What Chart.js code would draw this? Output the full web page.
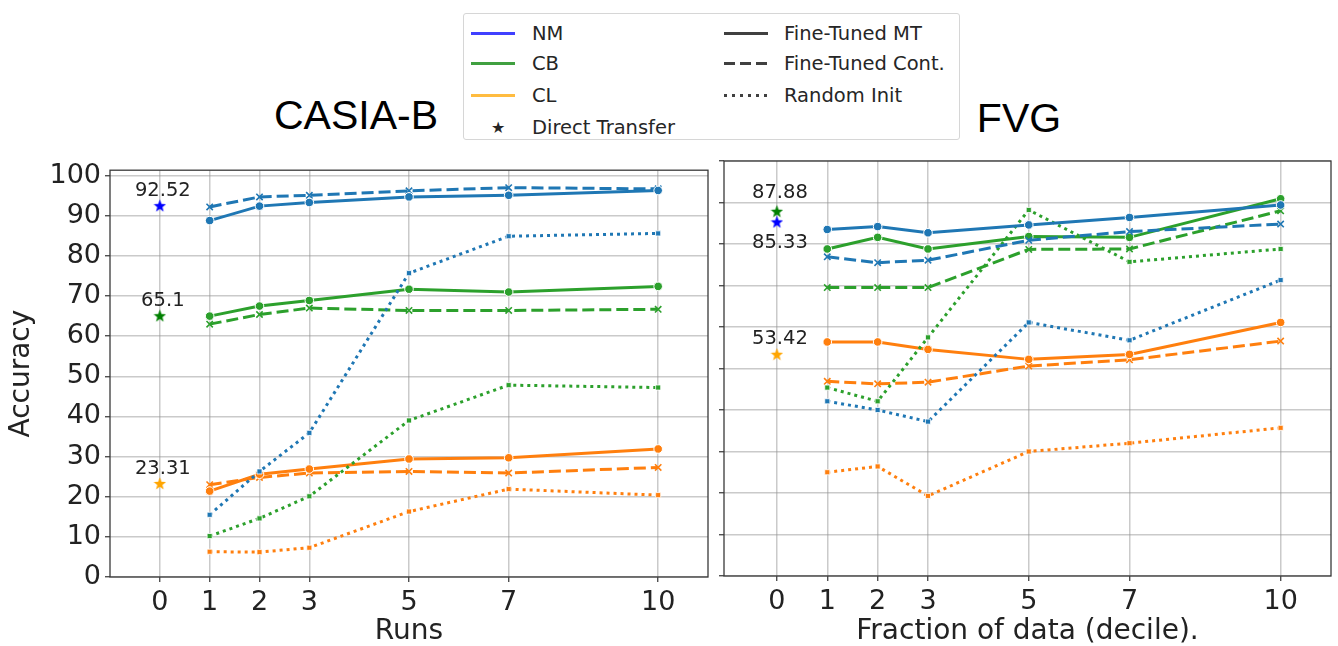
<!DOCTYPE html>
<html>
<head>
<meta charset="utf-8">
<script src="https://cdn.jsdelivr.net/npm/chart.js@4.4.1/dist/chart.umd.min.js"></script>
<style>
  body { margin: 0; width: 1338px; height: 646px; background: #fff; position: relative; overflow: hidden; font-family: "DejaVu Sans", sans-serif; }
  canvas { position: absolute; }
  #casia { left: 0; top: 150px; }
  #fvg { left: 715px; top: 150px; }
  .title { position: absolute; width: 240px; text-align: center; font-family: "Liberation Sans", Arial, sans-serif; font-size: 41px; line-height: 41px; color: #000; }
  #legend { position: absolute; left: 463px; top: 13px; width: 497px; height: 127px; border: 1px solid #d6d6d6; border-radius: 3px; box-sizing: border-box; }
  .item { position: absolute; height: 30px; line-height: 30px; font-size: 19.5px; color: #262626; white-space: nowrap; }
  .sw { position: absolute; height: 3px; width: 44px; }
</style>
</head>
<body>
<div class="title" style="left:236px; top:95px;">CASIA-B</div>
<div class="title" style="left:899px; top:98px;">FVG</div>

<div id="legend">
  <div class="sw" style="left:7px; top:18px; background:rgba(0,0,255,0.75);"></div>
  <div class="item" style="left:68px; top:5px;">NM</div>
  <div class="sw" style="left:7px; top:48px; background:rgba(0,128,0,0.75);"></div>
  <div class="item" style="left:68px; top:35px;">CB</div>
  <div class="sw" style="left:7px; top:80px; background:rgba(255,165,0,0.75);"></div>
  <div class="item" style="left:68px; top:67px;">CL</div>
  <div class="item" style="left:27px; top:99px; font-size:16px;">★</div>
  <div class="item" style="left:68px; top:99px;">Direct Transfer</div>

  <div class="sw" style="left:260px; top:18px; background:#404040;"></div>
  <div class="item" style="left:320px; top:5px;">Fine-Tuned MT</div>
  <div class="sw" style="left:260px; top:48px; background:repeating-linear-gradient(to right,#404040 0 11px,transparent 11px 16px);"></div>
  <div class="item" style="left:320px; top:35px;">Fine-Tuned Cont.</div>
  <div class="sw" style="left:260px; top:80px; background:repeating-linear-gradient(to right,#404040 0 3px,transparent 3px 8px);"></div>
  <div class="item" style="left:320px; top:67px;">Random Init</div>
</div>

<canvas id="casia" width="715" height="496"></canvas>
<canvas id="fvg" width="623" height="496"></canvas>

<script>
// ---- data ----
const xTicks = [0, 1, 2, 3, 5, 7, 10];
const xPoints = [1, 2, 3, 5, 7, 10];
const yTicks = [0, 10, 20, 30, 40, 50, 60, 70, 80, 90, 100];

// CASIA-B (Runs)
const casiaNM_MT   = [88.8, 92.4, 93.3, 94.7, 95.1, 96.3];
const casiaNM_Cont = [92.2, 94.7, 95.1, 96.2, 97.0, 96.7];
const casiaNM_Rand = [15.5, 26.3, 35.9, 75.7, 84.9, 85.6];
const casiaCB_MT   = [65.0, 67.5, 68.9, 71.7, 71.0, 72.4];
const casiaCB_Cont = [63.0, 65.4, 67.0, 66.4, 66.4, 66.7];
const casiaCB_Rand = [10.2, 14.6, 20.1, 39.0, 47.8, 47.2];
const casiaCL_MT   = [21.4, 25.6, 26.9, 29.4, 29.7, 31.9];
const casiaCL_Cont = [23.0, 24.8, 25.9, 26.3, 25.9, 27.3];
const casiaCL_Rand = [6.3, 6.2, 7.3, 16.3, 21.9, 20.4];
const casiaDirect  = [92.52, 65.1, 23.31]; // NM, CB, CL

// FVG (fraction of data)
const fvgNM_MT   = [83.5, 84.2, 82.7, 84.6, 86.4, 89.4];
const fvgNM_Cont = [76.9, 75.5, 76.1, 80.9, 83.0, 84.8];
const fvgNM_Rand = [42.1, 40.0, 37.2, 61.1, 56.8, 71.3];
const fvgCB_MT   = [78.8, 81.6, 78.8, 81.8, 81.6, 90.9];
const fvgCB_Cont = [69.5, 69.5, 69.5, 78.7, 78.8, 88.0];
const fvgCB_Rand = [45.4, 42.1, 57.5, 88.2, 75.7, 78.8];
const fvgCL_MT   = [56.4, 56.4, 54.6, 52.2, 53.4, 61.1];
const fvgCL_Cont = [46.9, 46.3, 46.7, 50.6, 52.1, 56.6];
const fvgCL_Rand = [25.0, 26.4, 19.3, 30.0, 32.0, 35.7];
const fvgDirect  = [85.33, 87.88, 53.42]; // NM, CB, CL

// ---- styling ----
const font = '"DejaVu Sans", sans-serif';
const lineColors = { NM: '#1f77b4', CB: '#2ca02c', CL: '#ff7f0e' };
const starColors = ['#0000ff', '#008000', '#ffa500'];
const kinds = {
  MT:   { dash: [],      point: 'circle',   radius: 4.3, pointBorder: '#fff', pointBorderWidth: 1 },
  Cont: { dash: [12, 5], point: 'crossRot', radius: 4.5, pointBorder: null,   pointBorderWidth: 1.6 },
  Rand: { dash: [3, 4],  point: 'rect',     radius: 3.6, pointBorder: '#fff', pointBorderWidth: 0.8 },
};
const gridColor = 'rgba(150,150,150,0.5)';

function starImage(color, size) {
  const c = document.createElement('canvas');
  c.width = c.height = size;
  const ctx = c.getContext('2d');
  const r = size / 2, ri = r * 0.42;
  ctx.beginPath();
  for (let i = 0; i < 10; i++) {
    const rad = i % 2 ? ri : r;
    const a = -Math.PI / 2 + i * Math.PI / 5;
    ctx.lineTo(r + rad * Math.cos(a), r + rad * 1.05 * Math.sin(a) + 0.5);
  }
  ctx.closePath();
  ctx.fillStyle = color;
  ctx.fill();
  return c;
}
const stars = starColors.map(c => starImage(c, 13));

function series(values, group, kind) {
  const k = kinds[kind];
  const col = lineColors[group];
  return {
    label: group + ' ' + kind,
    data: xPoints.map((x, i) => ({ x: x, y: values[i] })),
    borderColor: col,
    backgroundColor: col,
    borderWidth: 3,
    borderDash: k.dash,
    tension: 0,
    pointStyle: k.point,
    pointRadius: k.radius,
    pointBackgroundColor: col,
    pointBorderColor: k.pointBorder || col,
    pointBorderWidth: k.pointBorderWidth,
  };
}

function directSet(values) {
  return {
    label: 'Direct Transfer',
    showLine: false,
    data: values.map(v => ({ x: 0, y: v })),
    pointStyle: stars,
    pointRadius: 6,
    order: -1,
  };
}

// frame around the axes and value labels next to the stars
const framePlugin = {
  id: 'frame',
  afterDatasetsDraw(chart, args, opts) {
    const a = chart.chartArea, ctx = chart.ctx;
    ctx.save();
    ctx.strokeStyle = '#3a3a3a';
    ctx.lineWidth = 1.3;
    ctx.strokeRect(a.left, a.top, a.right - a.left, a.bottom - a.top);
    const meta = chart.getDatasetMeta(chart.data.datasets.length - 1);
    ctx.font = '19.5px ' + font;
    ctx.fillStyle = '#222';
    ctx.textAlign = 'center';
    ctx.textBaseline = 'middle';
    meta.data.forEach((pt, i) => {
      const v = chart.data.datasets[meta.index].data[i].y;
      ctx.fillText(String(v), pt.x + 3, pt.y + opts.shift[i]);
    });
    ctx.restore();
  }
};

function makeChart(id, sets, direct, cfg) {
  const datasets = sets.map(s => series(s[0], s[1], s[2]));
  datasets.push(directSet(direct));
  return new Chart(document.getElementById(id), {
    type: 'line',
    data: { datasets },
    plugins: [framePlugin],
    options: {
      responsive: false,
      animation: false,
      layout: { padding: cfg.padding },
      plugins: { legend: { display: false }, tooltip: { enabled: false }, frame: { shift: cfg.shift } },
      scales: {
        x: {
          type: 'linear', min: cfg.xMin, max: 11,
          afterBuildTicks: a => { a.ticks = xTicks.map(v => ({ value: v })); },
          afterFit: a => { a.height = cfg.xHeight; },
          border: { display: false },
          grid: { color: gridColor, lineWidth: 1.5, drawTicks: true, tickLength: 5, tickColor: '#333', tickWidth: 1.2 },
          ticks: { font: { family: font, size: 27 }, color: '#222', padding: 5, maxRotation: 0, autoSkip: false, callback: v => String(v) },
          title: { display: true, text: cfg.xTitle, font: { family: font, size: 28, lineHeight: 1 }, color: '#222', padding: { top: 0, bottom: 0 } },
        },
        y: {
          type: 'linear', min: 0, max: cfg.yMax,
          afterBuildTicks: a => { a.ticks = yTicks.map(v => ({ value: v })); },
          afterFit: a => { a.width = cfg.yWidth; },
          border: { display: false },
          grid: { color: gridColor, lineWidth: 1.5, drawTicks: true, tickLength: 5, tickColor: '#333', tickWidth: 1.2 },
          ticks: { display: cfg.yLabels, font: { family: font, size: 27 }, color: '#222', padding: 4 },
          title: { display: cfg.yLabels, text: 'Accuracy', font: { family: font, size: 28 }, color: '#222', padding: { top: 5, bottom: 0 } },
        },
      },
    },
  });
}

makeChart('casia', [
  [casiaNM_MT, 'NM', 'MT'], [casiaNM_Cont, 'NM', 'Cont'], [casiaNM_Rand, 'NM', 'Rand'],
  [casiaCB_MT, 'CB', 'MT'], [casiaCB_Cont, 'CB', 'Cont'], [casiaCB_Rand, 'CB', 'Rand'],
  [casiaCL_MT, 'CL', 'MT'], [casiaCL_Cont, 'CL', 'Cont'], [casiaCL_Rand, 'CL', 'Rand'],
], casiaDirect, {
  padding: { top: 14, right: 7, left: 0, bottom: 0 },
  xMin: -1, yMax: 101.35, xHeight: 69, yWidth: 110, yLabels: true,
  xTitle: 'Runs', shift: [-15, -15, -15],
});

makeChart('fvg', [
  [fvgNM_MT, 'NM', 'MT'], [fvgNM_Cont, 'NM', 'Cont'], [fvgNM_Rand, 'NM', 'Rand'],
  [fvgCB_MT, 'CB', 'MT'], [fvgCB_Cont, 'CB', 'Cont'], [fvgCB_Rand, 'CB', 'Rand'],
  [fvgCL_MT, 'CL', 'MT'], [fvgCL_Cont, 'CL', 'Cont'], [fvgCL_Rand, 'CL', 'Rand'],
], fvgDirect, {
  padding: { top: 11, right: 4, left: 0, bottom: 0 },
  xMin: -1.05, yMax: 100, xHeight: 70, yWidth: 9, yLabels: false,
  xTitle: 'Fraction of data (decile).', shift: [21, -18, -15],
});
</script>
</body>
</html>
